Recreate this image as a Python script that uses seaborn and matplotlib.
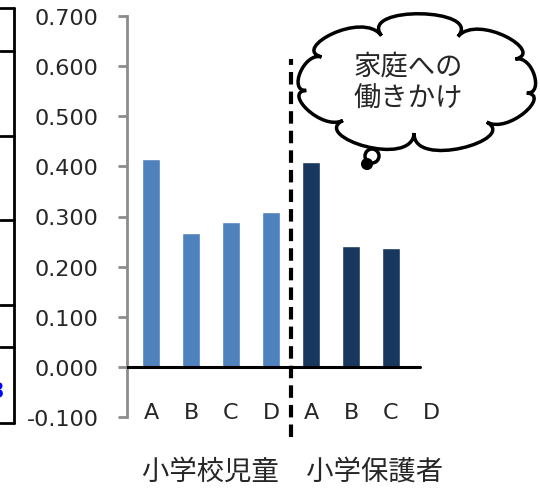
import numpy as np
import pandas as pd
import matplotlib
matplotlib.use("Agg")
import matplotlib.pyplot as plt
import seaborn as sns
from matplotlib.path import Path
from matplotlib.patches import PathPatch, Circle
from matplotlib.lines import Line2D

# data
tick_labels = ["A", "B", "C", "D", "A", "B", "C", "D"]
groups = ["小学校児童"] * 4 + ["小学保護者"] * 4
values = [0.414, 0.267, 0.290, 0.309, 0.408, 0.242, 0.238, np.nan]
group_title = "小学校児童\u3000小学保護者"
callout_text = "家庭への\n働きかけ"
colors = {"小学校児童": "#4F81BD", "小学保護者": "#17375E"}


def cloud_path(cx, cy, rx, ry, n=9, bulge=0.5):
    angles = np.linspace(0, 2 * np.pi, n + 1) + 0.2
    pts = [(cx + rx * np.cos(a), cy + ry * np.sin(a)) for a in angles]
    verts, codes = [pts[0]], [Path.MOVETO]
    for i in range(n):
        p0, p1 = np.array(pts[i]), np.array(pts[i + 1])
        chord = np.linalg.norm(p1 - p0)
        d0 = (p0 - [cx, cy]) / np.linalg.norm(p0 - [cx, cy])
        d1 = (p1 - [cx, cy]) / np.linalg.norm(p1 - [cx, cy])
        c0 = p0 + d0 * chord * bulge
        c1 = p1 + d1 * chord * bulge
        verts += [tuple(c0), tuple(c1), tuple(p1)]
        codes += [Path.CURVE4] * 3
    verts.append(pts[0])
    codes.append(Path.CLOSEPOLY)
    return Path(verts, codes)


def main():
    sns.set_theme(style="white")
    plt.rcParams['font.family'] = ['DejaVu Sans', 'Noto Sans CJK JP']

    df = pd.DataFrame({"pos": range(len(values)), "value": values, "group": groups})

    fig = plt.figure(figsize=(5.4, 4.89), dpi=100)
    ax = fig.add_axes([127 / 540, 1 - 418 / 489, 320 / 540, 401 / 489])
    sns.barplot(data=df, x="pos", y="value", hue="group", palette=colors,
                order=list(range(len(values))), dodge=False, width=0.45,
                saturation=1, legend=False, ax=ax)

    ax.set_xlim(-0.6, 7.4)
    ax.set_ylim(-0.1, 0.7)
    ax.set_yticks(np.arange(-0.1, 0.71, 0.1))
    ax.set_yticklabels([f"{v:.3f}" for v in np.arange(-0.1, 0.71, 0.1)])
    ax.set_xticks(range(len(tick_labels)))
    ax.set_xticklabels(tick_labels)
    ax.set_xlabel("")
    ax.set_ylabel("")
    for s in ["top", "right", "bottom"]:
        ax.spines[s].set_visible(False)
    ax.spines["left"].set_color("#8C8C8C")
    ax.spines["left"].set_linewidth(2)
    ax.tick_params(axis="y", left=True, length=6.5, width=2, color="#8C8C8C",
                   labelsize=16, pad=14)
    ax.tick_params(axis="x", bottom=False, labelsize=16, pad=-17)
    ax.patch.set_alpha(0)

    # baseline and divider
    ax.axhline(0, xmin=0, xmax=0.915, color="black", lw=2.2, zorder=3)
    ax.axvline(3.5, ymin=-0.05, ymax=0.894, color="black", lw=3,
               linestyle=(0, (3, 1.7)), clip_on=False, zorder=4)

    # overlay in pixel coordinates for decorations
    ov = fig.add_axes([0, 0, 1, 1])
    ov.set_xlim(0, 540)
    ov.set_ylim(489, 0)
    ov.axis("off")
    ov.patch.set_alpha(0)

    # cropped table on left edge
    ov.add_line(Line2D([14, 14], [9, 424], color="black", lw=2))
    for y in [9, 52, 137, 221, 306, 348, 424]:
        ov.add_line(Line2D([0, 14], [y, y], color="black", lw=2))
    ov.text(4, 392, "3", color="#0000FF", fontsize=15, fontweight="bold",
            ha="right", va="center")

    # thought cloud
    ov.add_patch(PathPatch(cloud_path(417, 84, 112, 50), facecolor="white",
                           edgecolor="black", lw=2.5, zorder=5))
    ov.add_patch(Circle((372, 157), 7, facecolor="white", edgecolor="black",
                        lw=2.5, zorder=5))
    ov.add_patch(Circle((367, 165), 5, facecolor="black", edgecolor="black",
                        lw=1.5, zorder=5))
    ov.text(408, 83, callout_text, ha="center", va="center", fontsize=19.7,
            linespacing=1.25, zorder=6, family="Noto Sans CJK JP")

    fig.text(293 / 540, 1 - 472 / 489, group_title, ha="center", va="center",
             fontsize=19.7, family="Noto Sans CJK JP")

    fig.savefig("out.png", dpi=100)
    plt.close(fig)


if __name__ == "__main__":
    main()
